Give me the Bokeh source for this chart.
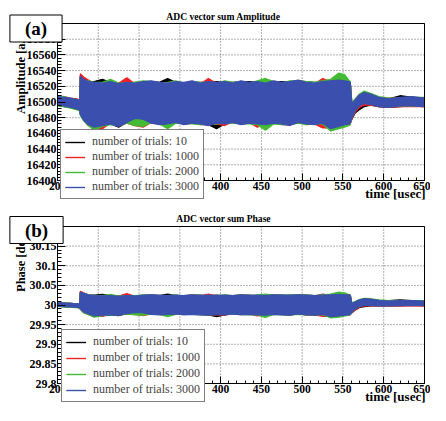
import math
from bokeh.plotting import figure
from bokeh.layouts import column
from bokeh.models import (Range1d, FixedTicker, Label, Legend, LegendItem,
                          CustomJSTickFormatter, BoxAnnotation)
from bokeh.embed import file_html
from bokeh.resources import INLINE

# ---------------- data (envelopes) ----------------
time_us = [200, 208, 216, 224, 227,
           228, 232, 238, 245,
           255, 265, 275, 285, 295, 305, 315, 325, 335, 345,
           355, 365, 375, 385, 395, 405, 415, 425, 435, 445,
           455, 465, 475, 485, 495, 505, 515, 525, 535, 545,
           552, 558, 559,
           561, 565, 570, 576, 584, 594, 606, 620, 635, 650]

series_labels = ["number of trials: 10", "number of trials: 1000",
                 "number of trials: 2000", "number of trials: 3000"]
series_colors = ["#000000", "#ee2222", "#44bb33", "#3b4fae"]

# Amplitude [a.u.] : upper / lower envelope of each trace
amp_hi_10 = [16507, 16506, 16504, 16503, 16502,
             16533, 16529, 16526, 16526,
             16529, 16525, 16524, 16524, 16525, 16525, 16526, 16525, 16530, 16525,
             16524, 16525, 16525, 16525, 16526, 16525, 16525, 16526, 16526, 16525,
             16525, 16526, 16526, 16525, 16527, 16526, 16525, 16525, 16526, 16531,
             16526, 16525, 16524,
             16496, 16500, 16505, 16509, 16509, 16505, 16504, 16508, 16506, 16505]
amp_lo_10 = [16496, 16494, 16493, 16491, 16490,
             16484, 16477, 16470, 16465,
             16471, 16472, 16468, 16474, 16472, 16471, 16474, 16472, 16472, 16475,
             16472, 16473, 16472, 16471, 16466, 16472, 16474, 16472, 16473, 16472,
             16472, 16473, 16472, 16471, 16474, 16472, 16472, 16473, 16468, 16470,
             16471, 16472, 16473,
             16478, 16486, 16490, 16494, 16496, 16494, 16493, 16494, 16495, 16494]
amp_hi_1000 = [16508, 16507, 16505, 16504, 16502,
               16536, 16532, 16528, 16524,
               16523, 16525, 16524, 16531, 16523, 16525, 16526, 16524, 16523, 16525,
               16524, 16526, 16523, 16530, 16524, 16525, 16523, 16526, 16524, 16525,
               16523, 16526, 16524, 16525, 16527, 16524, 16523, 16530, 16526, 16527,
               16526, 16525, 16524,
               16497, 16502, 16508, 16511, 16509, 16506, 16505, 16505, 16506, 16505]
amp_lo_1000 = [16497, 16495, 16494, 16492, 16491,
               16485, 16478, 16470, 16467,
               16466, 16473, 16470, 16473, 16470, 16468, 16474, 16472, 16471, 16475,
               16472, 16474, 16471, 16471, 16472, 16470, 16475, 16472, 16474, 16468,
               16472, 16474, 16471, 16471, 16475, 16471, 16472, 16467, 16467, 16470,
               16469, 16471, 16472,
               16479, 16487, 16493, 16496, 16496, 16494, 16493, 16494, 16494, 16494]
amp_hi_2000 = [16507, 16507, 16504, 16503, 16501,
               16532, 16528, 16527, 16525,
               16525, 16529, 16524, 16524, 16525, 16527, 16526, 16524, 16525, 16527,
               16524, 16526, 16525, 16525, 16524, 16527, 16525, 16526, 16524, 16527,
               16530, 16526, 16524, 16527, 16527, 16526, 16525, 16527, 16529, 16537,
               16535, 16527, 16526,
               16499, 16504, 16510, 16514, 16511, 16507, 16505, 16505, 16506, 16506]
amp_lo_2000 = [16495, 16494, 16492, 16490, 16489,
               16483, 16476, 16470, 16464,
               16469, 16471, 16470, 16473, 16470, 16469, 16474, 16472, 16466, 16473,
               16472, 16472, 16471, 16471, 16472, 16473, 16473, 16472, 16472, 16471,
               16464, 16472, 16471, 16471, 16473, 16471, 16472, 16472, 16463, 16466,
               16468, 16470, 16472,
               16481, 16490, 16496, 16499, 16498, 16495, 16494, 16495, 16495, 16495]
amp_hi_3000 = [16507, 16506, 16505, 16503, 16502,
               16533, 16529, 16526, 16525,
               16524, 16526, 16523, 16525, 16524, 16526, 16527, 16525, 16524, 16526,
               16525, 16527, 16524, 16526, 16525, 16526, 16524, 16527, 16525, 16526,
               16524, 16527, 16525, 16526, 16528, 16525, 16524, 16526, 16527, 16528,
               16527, 16526, 16525,
               16498, 16503, 16509, 16512, 16510, 16506, 16504, 16506, 16507, 16505]
amp_lo_3000 = [16496, 16495, 16493, 16491, 16490,
               16484, 16477, 16471, 16468,
               16470, 16472, 16469, 16474, 16479, 16478, 16473, 16471, 16472, 16474,
               16471, 16473, 16472, 16470, 16473, 16472, 16474, 16471, 16473, 16472,
               16471, 16473, 16472, 16470, 16474, 16472, 16471, 16473, 16466, 16469,
               16471, 16472, 16473,
               16480, 16489, 16495, 16498, 16497, 16494, 16493, 16495, 16495, 16494]

# Phase [deg] : upper / lower envelope of each trace
ph_hi_10 = [30.006, 30.005, 30.004, 30.003, 30.002,
            30.033, 30.030, 30.026, 30.025,
            30.027, 30.024, 30.023, 30.023, 30.024, 30.024, 30.025, 30.024, 30.028, 30.024,
            30.024, 30.025, 30.025, 30.024, 30.025, 30.024, 30.024, 30.025, 30.025, 30.024,
            30.024, 30.025, 30.025, 30.024, 30.025, 30.025, 30.024, 30.024, 30.025, 30.029,
            30.025, 30.025, 30.024,
            30.003, 30.006, 30.010, 30.013, 30.014, 30.012, 30.011, 30.013, 30.011, 30.010]
ph_lo_10 = [29.997, 29.996, 29.995, 29.994, 29.993,
            29.990, 29.982, 29.976, 29.970,
            29.975, 29.975, 29.973, 29.978, 29.978, 29.977, 29.977, 29.976, 29.976, 29.978,
            29.976, 29.976, 29.976, 29.975, 29.970, 29.975, 29.978, 29.976, 29.976, 29.976,
            29.975, 29.976, 29.976, 29.975, 29.977, 29.976, 29.975, 29.976, 29.972, 29.973,
            29.974, 29.975, 29.976,
            29.980, 29.987, 29.993, 29.996, 29.998, 29.998, 29.998, 29.998, 29.999, 29.998]
ph_hi_1000 = [30.007, 30.005, 30.004, 30.003, 30.002,
              30.035, 30.031, 30.025, 30.023,
              30.022, 30.023, 30.023, 30.029, 30.022, 30.024, 30.025, 30.024, 30.023, 30.024,
              30.023, 30.025, 30.023, 30.028, 30.023, 30.024, 30.023, 30.025, 30.023, 30.024,
              30.023, 30.025, 30.024, 30.024, 30.025, 30.024, 30.023, 30.028, 30.025, 30.026,
              30.025, 30.025, 30.024,
              30.003, 30.007, 30.012, 30.015, 30.014, 30.012, 30.011, 30.010, 30.011, 30.010]
ph_lo_1000 = [29.998, 29.996, 29.995, 29.994, 29.993,
              29.989, 29.981, 29.976, 29.973,
              29.971, 29.976, 29.975, 29.977, 29.976, 29.973, 29.977, 29.976, 29.975, 29.978,
              29.976, 29.977, 29.976, 29.975, 29.975, 29.974, 29.978, 29.976, 29.977, 29.972,
              29.975, 29.977, 29.976, 29.975, 29.978, 29.974, 29.975, 29.971, 29.971, 29.973,
              29.973, 29.975, 29.976,
              29.981, 29.988, 29.994, 29.998, 29.998, 29.998, 29.998, 29.998, 29.998, 29.998]
ph_hi_2000 = [30.006, 30.005, 30.004, 30.003, 30.002,
              30.032, 30.029, 30.026, 30.024,
              30.024, 30.027, 30.023, 30.023, 30.024, 30.026, 30.025, 30.024, 30.024, 30.026,
              30.023, 30.025, 30.024, 30.024, 30.023, 30.026, 30.024, 30.025, 30.023, 30.026,
              30.028, 30.025, 30.024, 30.026, 30.026, 30.025, 30.024, 30.026, 30.028, 30.033,
              30.031, 30.026, 30.025,
              30.005, 30.009, 30.014, 30.017, 30.016, 30.013, 30.011, 30.011, 30.011, 30.011]
ph_lo_2000 = [29.996, 29.995, 29.994, 29.993, 29.992,
              29.989, 29.980, 29.975, 29.969,
              29.973, 29.974, 29.975, 29.977, 29.975, 29.974, 29.977, 29.976, 29.970, 29.976,
              29.976, 29.976, 29.975, 29.975, 29.976, 29.976, 29.976, 29.976, 29.975, 29.975,
              29.968, 29.976, 29.975, 29.975, 29.976, 29.975, 29.975, 29.975, 29.967, 29.969,
              29.972, 29.974, 29.976,
              29.983, 29.991, 29.997, 30.000, 29.999, 29.999, 29.999, 29.999, 29.999, 30.000]
ph_hi_3000 = [30.006, 30.005, 30.004, 30.003, 30.002,
              30.033, 30.030, 30.026, 30.024,
              30.023, 30.024, 30.022, 30.024, 30.023, 30.025, 30.026, 30.025, 30.024, 30.025,
              30.024, 30.026, 30.024, 30.025, 30.024, 30.025, 30.024, 30.026, 30.024, 30.025,
              30.024, 30.026, 30.025, 30.025, 30.026, 30.025, 30.024, 30.025, 30.026, 30.027,
              30.026, 30.026, 30.025,
              30.004, 30.008, 30.013, 30.016, 30.015, 30.012, 30.010, 30.011, 30.011, 30.010]
ph_lo_3000 = [29.997, 29.996, 29.995, 29.994, 29.993,
              29.990, 29.982, 29.977, 29.972,
              29.974, 29.975, 29.974, 29.978, 29.981, 29.980, 29.976, 29.975, 29.976, 29.977,
              29.975, 29.976, 29.975, 29.974, 29.976, 29.975, 29.977, 29.975, 29.976, 29.975,
              29.974, 29.976, 29.975, 29.974, 29.977, 29.975, 29.974, 29.976, 29.970, 29.972,
              29.974, 29.975, 29.976,
              29.982, 29.990, 29.996, 29.999, 29.999, 29.998, 29.998, 29.999, 29.999, 29.999]

x_major_ticks = [200, 250, 300, 350, 400, 450, 500, 550, 600, 650]
amp_major_ticks = [16400, 16420, 16440, 16460, 16480, 16500, 16520, 16540, 16560, 16580, 16600]
ph_major_ticks = [29.8, 29.85, 29.9, 29.95, 30.0, 30.05, 30.1, 30.15, 30.2]

SERIF = "Liberation Serif"
W = 430


def minor_between(ticks, n):
    out = []
    for a, b in zip(ticks[:-1], ticks[1:]):
        step = (b - a) / n
        out.extend(a + step * k for k in range(1, n))
    return out


def make_panel(title, ylabel, tag, y_major, his, los, fmt, height,
               f_left, f_right, f_top, f_bottom,
               title_xy, ylab_xy, box_xy, time_xy, legend_xy, legend_spacing):
    x0, x1 = x_major_ticks[0], x_major_ticks[-1]
    y0, y1 = y_major[0], y_major[-1]
    # ranges chosen so the ROOT frame [x0,x1]x[y0,y1] sits at the wanted pixels
    kx = (x1 - x0) / (f_right - f_left)
    ky = (y1 - y0) / (f_bottom - f_top)
    xr = Range1d(x0 - f_left * kx, x1 + (W - f_right) * kx)
    yr = Range1d(y0 - (height - f_bottom) * ky, y1 + f_top * ky)

    p = figure(width=W, height=height, output_backend="svg", toolbar_location=None,
               x_range=xr, y_range=yr, min_border=0)
    p.outline_line_color = None
    p.background_fill_color = "white"
    p.border_fill_color = "white"
    p.grid.visible = False

    # dotted grid at the major ticks, inside the frame
    p.segment(x0=x_major_ticks, y0=[y0] * len(x_major_ticks),
              x1=x_major_ticks, y1=[y1] * len(x_major_ticks),
              line_color="#606060", line_dash="1 2", line_width=1)
    p.segment(x0=[x0] * len(y_major), y0=y_major,
              x1=[x1] * len(y_major), y1=y_major,
              line_color="#606060", line_dash="1 2", line_width=1)

    xt = FixedTicker(ticks=x_major_ticks, minor_ticks=minor_between(x_major_ticks, 5))
    yt = FixedTicker(ticks=y_major, minor_ticks=minor_between(y_major, 5))
    p.xaxis.ticker = xt
    p.yaxis.ticker = yt
    p.xaxis.fixed_location = y0
    p.yaxis.fixed_location = x0
    p.xaxis.bounds = (x0, x1)
    p.yaxis.bounds = (y0, y1)

    for ax in (p.xaxis, p.yaxis):
        ax.axis_line_color = "black"
        ax.major_tick_line_color = "black"
        ax.minor_tick_line_color = "black"
        ax.major_tick_out = 0
        ax.minor_tick_out = 0
        ax.major_label_text_font = SERIF
        ax.major_label_text_font_style = "bold"
        ax.major_label_text_color = "black"
    p.xaxis.major_tick_in = 7
    p.xaxis.minor_tick_in = 3
    p.yaxis.major_tick_in = 8
    p.yaxis.minor_tick_in = 4
    p.xaxis.major_label_text_font_size = "11.5px"
    p.yaxis.major_label_text_font_size = "12px"
    p.xaxis.major_label_standoff = 1
    p.yaxis.major_label_standoff = 1
    if fmt is not None:
        p.yaxis.formatter = fmt

    items = []
    for lab, col, hi, lo in zip(series_labels, series_colors, his, los):
        p.varea(x=time_us, y1=lo, y2=hi, fill_color=col, fill_alpha=1.0)
        r1 = p.line(time_us, hi, line_color=col, line_width=1.2)
        r2 = p.line(time_us, lo, line_color=col, line_width=1.2)
        items.append(LegendItem(label=lab, renderers=[r1, r2]))

    # the frame box
    p.add_layout(BoxAnnotation(left=x0, right=x1, bottom=y0, top=y1,
                               fill_color=None, line_color="black",
                               line_width=1, line_alpha=1.0))

    leg = Legend(items=items, location=legend_xy)
    leg.border_line_color = "black"
    leg.border_line_width = 1
    leg.background_fill_color = "white"
    leg.background_fill_alpha = 1.0
    leg.label_text_font = SERIF
    leg.label_text_font_size = "12px"
    leg.glyph_width = 20
    leg.glyph_height = 12
    leg.label_height = 12
    leg.label_standoff = 7
    leg.spacing = legend_spacing
    leg.padding = 4
    leg.margin = 0
    p.add_layout(leg)

    p.add_layout(Label(x=title_xy[0], y=title_xy[1], x_units="screen", y_units="screen",
                       text=title, text_align="center", text_baseline="middle",
                       text_font=SERIF, text_font_style="bold",
                       text_font_size="9.6px", text_color="black"))
    p.add_layout(Label(x=ylab_xy[0], y=ylab_xy[1], x_units="screen", y_units="screen",
                       text=ylabel, angle=math.pi / 2, text_align="left",
                       text_baseline="middle", text_font=SERIF,
                       text_font_style="bold", text_font_size="12.5px",
                       text_color="black"))
    p.add_layout(Label(x=time_xy[0], y=time_xy[1], x_units="screen", y_units="screen",
                       text="time [usec]", text_align="right",
                       text_baseline="middle", text_font=SERIF,
                       text_font_style="bold", text_font_size="13px",
                       text_color="black"))
    p.add_layout(Label(x=box_xy[0], y=box_xy[1], x_units="screen", y_units="screen",
                       text=tag, text_align="center", text_baseline="middle",
                       text_font=SERIF, text_font_style="bold",
                       text_font_size="19px", text_color="black",
                       background_fill_color="white", background_fill_alpha=1.0,
                       border_line_color="black", border_line_width=1,
                       padding=dict(left=15, right=15, top=3, bottom=3),
                       level="overlay"))
    return p


ph_fmt = CustomJSTickFormatter(code="return String(Math.round(tick*100)/100);")

# geometry: frame pixels measured from the canvas top-left; labels from bottom-left
p1 = make_panel("ADC vector sum Amplitude", "Amplitude [a.u.]", "(a)",
                amp_major_ticks,
                [amp_hi_10, amp_hi_1000, amp_hi_2000, amp_hi_3000],
                [amp_lo_10, amp_lo_1000, amp_lo_2000, amp_lo_3000],
                None, 202, 57, 424, 23, 180,
                (223, 185.6), (20, 88.5), (35.5, 174), (425, 9), (60, 3), 0)
p2 = make_panel("ADC vector sum Phase", "Phase [deg]", "(b)",
                ph_major_ticks,
                [ph_hi_10, ph_hi_1000, ph_hi_2000, ph_hi_3000],
                [ph_lo_10, ph_lo_1000, ph_lo_2000, ph_lo_3000],
                ph_fmt, 203, 57, 424, 24, 181,
                (223, 186.6), (20, 113.5), (36, 175.5), (425, 9), (61, 3), 1)

layout = column(p1, p2)
open("out.html", "w").write(file_html(layout, INLINE))
